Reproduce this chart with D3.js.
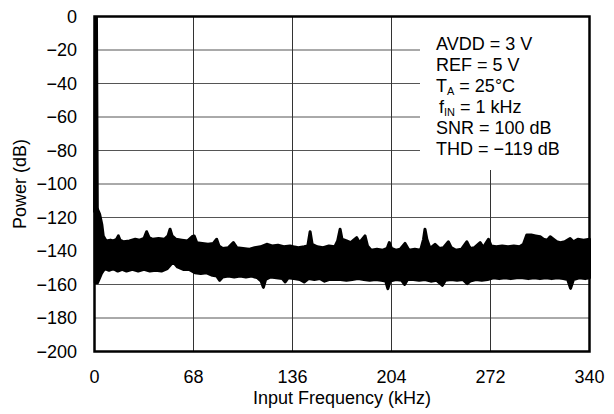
<!DOCTYPE html>
<html>
<head>
<meta charset="utf-8">
<script src="https://cdn.jsdelivr.net/npm/d3@7"></script>
<style>
  body { margin: 0; background: #fff; }
  svg { display: block; font-family: "Liberation Sans", Arial, sans-serif; }
</style>
</head>
<body>
<svg id="chart" width="614" height="414"></svg>
<script>
// ticks
const xTicks = [0, 68, 136, 204, 272, 340]
const yTicks = [0, -20, -40, -60, -80, -100, -120, -140, -160, -180, -200]

// fundamental tone (kHz, dB)
const fundFreq = [0.4, 1, 1.6]
const fundDb = [-117, 0, -117]

// noise floor, upper edge of the band (kHz, dB)
const upperFreq = [0.5, 2, 3.5, 5, 6, 8, 11, 13, 15.2, 16.4, 17.5, 20, 24, 28, 31, 34, 35.8, 37.5, 40, 44, 48, 50.5, 51.9, 53.3, 56, 60, 64, 67, 68.5, 70.2, 74, 78, 81.6, 83.9, 85.5, 88, 92, 95.4, 97.7, 102, 106, 110, 114, 118.3, 122, 126, 130, 134.3, 136.6, 140, 144, 146.5, 148.1, 149.5, 153, 157, 161, 165, 167, 168.7, 170, 173.2, 176, 178, 180.1, 182, 185.8, 187.5, 190, 194, 198, 201, 202.5, 204, 207, 210, 213.3, 216, 220, 224, 226, 227, 228.3, 230.5, 233.9, 237, 239.7, 243.1, 245, 248, 252, 255.7, 258, 261, 264.9, 267, 270.6, 272.5, 276, 280, 284, 288, 292, 294.6, 296.9, 300, 303, 306.1, 308.4, 311, 313, 315.2, 317.5, 320, 323, 326.7, 329, 332, 336, 340]
const upperDb = [-117, -115, -118, -124, -131, -134, -133.5, -134, -133, -131, -133.5, -134.5, -134, -133, -133.5, -132.5, -128.5, -132, -133, -132.5, -133, -131, -127, -131, -133, -133.5, -134, -131.5, -131, -135, -135.5, -136, -135.5, -133, -137, -138.5, -138, -135, -138, -138.5, -139, -138, -137.5, -136, -137, -136.5, -137.5, -137, -137.5, -138, -137.5, -137, -128.5, -136, -137.5, -138, -137, -137.5, -134, -127, -133, -134, -135, -133.5, -132, -135, -131, -137, -139.5, -139, -139.5, -138.5, -135, -138.5, -139.5, -139, -135.5, -139.5, -139, -139.5, -133, -127, -133, -138.5, -136, -138.5, -138, -134.5, -138, -139.5, -139, -134.5, -138.5, -138, -135, -138, -133, -137, -137.5, -137, -137.5, -137, -137.5, -136, -130.5, -130.5, -131, -131.5, -133, -133.5, -131.5, -133, -134.5, -135, -134.5, -132.5, -134.5, -133, -133.5, -133]

// noise floor, lower edge of the band (kHz, dB)
const lowerFreq = [0.5, 2, 3.5, 5, 7, 10, 13, 16, 19, 22, 26, 30, 34, 38, 42, 46, 50, 54, 57, 61, 65, 69, 73, 77, 81, 84, 86, 88, 92, 96, 100, 104, 108, 112, 114.5, 116, 117.5, 121, 125, 129, 131, 133, 137, 141, 144, 147, 151, 155, 158, 161, 165, 169, 173, 177, 181, 185, 189, 193, 197, 200, 201.5, 203, 207, 211, 213, 215, 219, 223, 227, 231, 235, 239, 241, 245, 249, 253, 256, 258, 262, 266, 270, 274, 278, 282, 286, 290, 294, 298, 302, 306, 310, 314, 318, 322, 325, 327, 329, 333, 337, 340]
const lowerDb = [-159, -159, -156, -153, -150.5, -151.5, -150.5, -152, -151, -152, -151, -152, -151, -152, -151.5, -152, -150.5, -146.5, -149.5, -151, -151, -153, -153.5, -153, -154.5, -155, -157.5, -155.5, -155, -155.5, -155, -155.5, -155, -156, -158, -161.7, -157, -155.5, -156, -156.5, -158.5, -156, -156.5, -157, -158.5, -156.5, -157, -156.5, -158, -157, -157, -157, -157.5, -157, -156.5, -157, -157.5, -157, -157.5, -158, -162.5, -158, -157, -157.5, -160, -157, -157, -157.5, -157, -158, -157.5, -160.5, -157.5, -157, -157.5, -157, -159.5, -158, -157, -157.5, -157, -156, -156.5, -156, -156.5, -156, -156, -156.5, -156, -156.5, -156, -156.5, -156, -156.5, -157, -162.3, -157, -156, -156.5, -156]

// conditions shown in the box
const notes = [
  ["AVDD = 3 V"],
  ["REF = 5 V"],
  ["T", "A", " = 25°C"],
  ["f", "IN", " = 1 kHz"],
  ["SNR = 100 dB"],
  ["THD = −119 dB"],
]

const margin = { top: 16.5, right: 24.5, bottom: 62.5, left: 94.5 },
  width = 614,
  height = 414,
  fontSize = 18

const svg = d3.select("#chart")

const x = d3
  .scaleLinear()
  .domain([0, 340])
  .range([margin.left, width - margin.right])
const y = d3
  .scaleLinear()
  .domain([-200, 0])
  .range([height - margin.bottom, margin.top])

// grid
svg
  .append("g")
  .selectAll("line")
  .data(yTicks.slice(1, -1))
  .join("line")
  .attr("x1", x(0))
  .attr("x2", x(340))
  .attr("y1", d => y(d))
  .attr("y2", d => y(d))
  .attr("stroke", "#555")
  .attr("stroke-width", 1)
svg
  .append("g")
  .selectAll("line")
  .data(xTicks.slice(1, -1))
  .join("line")
  .attr("x1", d => x(d))
  .attr("x2", d => x(d))
  .attr("y1", y(0))
  .attr("y2", y(-200))
  .attr("stroke", "#333")
  .attr("stroke-width", 1)

// white box behind the notes
svg
  .append("rect")
  .attr("x", 420)
  .attr("y", y(0))
  .attr("width", x(340) - 420)
  .attr("height", 170 - y(0))
  .attr("fill", "#fff")

// noise band: upper edge forward, lower edge back
const band = upperFreq
  .map((f, i) => [f, upperDb[i]])
  .concat(lowerFreq.map((f, i) => [f, lowerDb[i]]).reverse())
const line = d3
  .line()
  .x(d => x(d[0]))
  .y(d => y(d[1]))
svg
  .append("path")
  .attr("d", line(band) + "Z")
  .attr("fill", "#000")
  .attr("stroke", "#000")
  .attr("stroke-width", 3)
  .attr("stroke-linejoin", "round")

svg
  .append("path")
  .attr("d", line(fundFreq.map((f, i) => [f, fundDb[i]])))
  .attr("fill", "none")
  .attr("stroke", "#000")
  .attr("stroke-width", 4)

// frame
svg
  .append("rect")
  .attr("x", x(0))
  .attr("y", y(0))
  .attr("width", x(340) - x(0))
  .attr("height", y(-200) - y(0))
  .attr("fill", "none")
  .attr("stroke", "#000")
  .attr("stroke-width", 2.5)

// axes labels
const fmt = d3.format("d")
svg
  .append("g")
  .attr("font-size", fontSize)
  .selectAll("text")
  .data(yTicks)
  .join("text")
  .attr("x", 77)
  .attr("y", d => y(d))
  .attr("dy", "0.36em")
  .attr("text-anchor", "end")
  .text(d => fmt(d))
svg
  .append("g")
  .attr("font-size", fontSize)
  .selectAll("text")
  .data(xTicks)
  .join("text")
  .attr("x", d => x(d))
  .attr("y", 377)
  .attr("dy", "0.36em")
  .attr("text-anchor", "middle")
  .text(d => fmt(d))

svg
  .append("text")
  .attr("x", (x(0) + x(340)) / 2)
  .attr("y", 398)
  .attr("dy", "0.36em")
  .attr("text-anchor", "middle")
  .attr("font-size", fontSize)
  .text("Input Frequency (kHz)")
svg
  .append("text")
  .attr("transform", `translate(20, ${(y(0) + y(-200)) / 2}) rotate(-90)`)
  .attr("dy", "0.36em")
  .attr("text-anchor", "middle")
  .attr("font-size", fontSize)
  .text("Power (dB)")

// notes
const nt = svg
  .append("g")
  .attr("font-size", fontSize)
  .selectAll("text")
  .data(notes)
  .join("text")
  .attr("x", (d, i) => (i === 3 ? 439 : 436))
  .attr("y", (d, i) => 44 + i * 21)
  .attr("dy", "0.36em")
nt.each(function(d) {
  const t = d3.select(this)
  if (d.length === 1) {
    t.text(d[0])
  } else {
    t.append("tspan").text(d[0])
    t.append("tspan").attr("font-size", 11).attr("dy", 3).text(d[1])
    t.append("tspan").attr("dy", -3).text(d[2])
  }
})
</script>
</body>
</html>
